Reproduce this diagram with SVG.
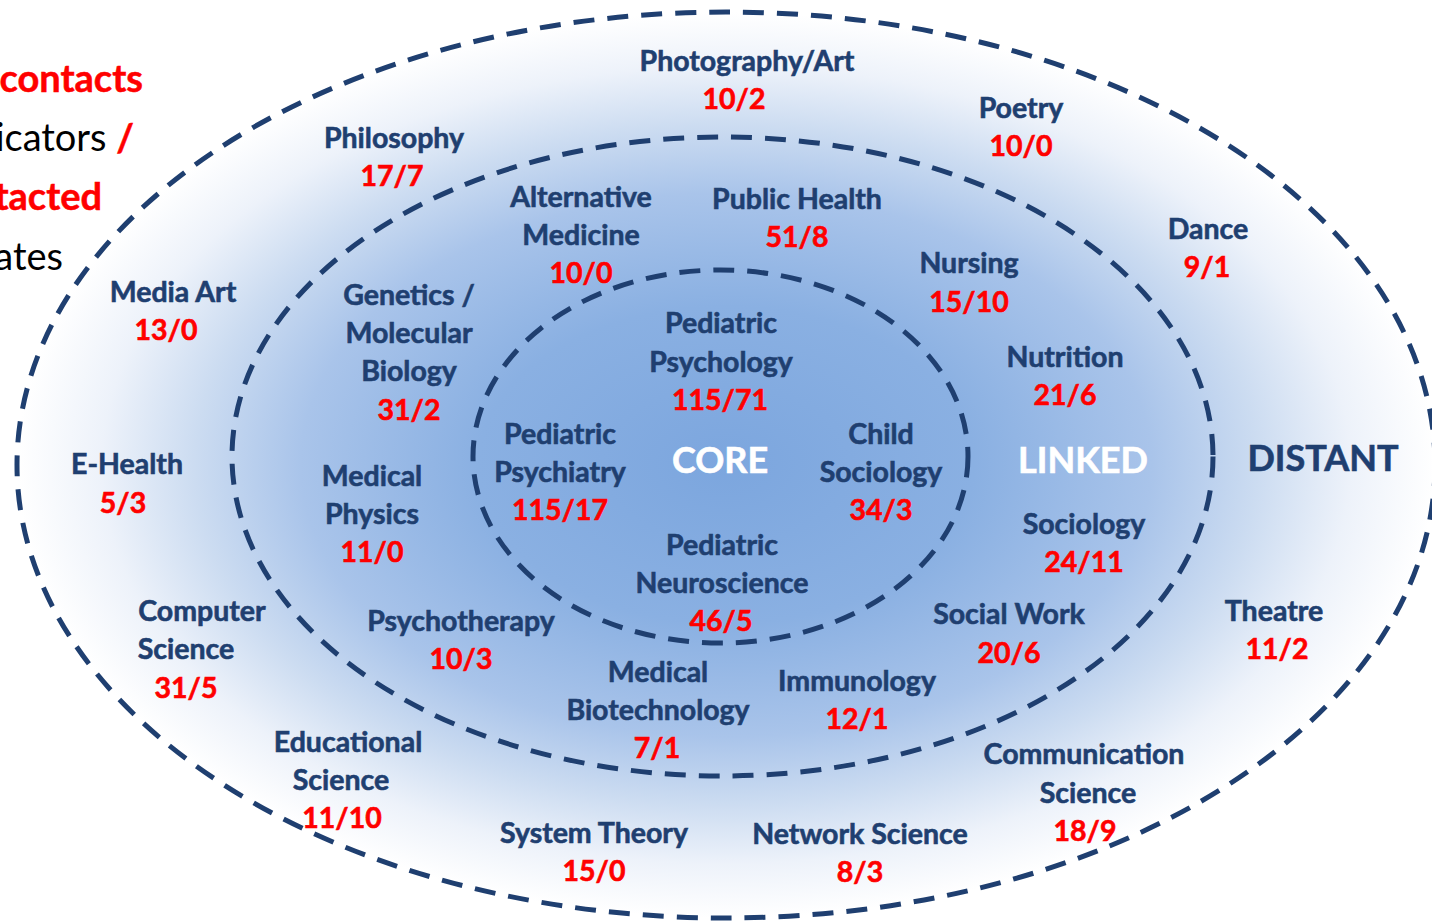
<svg xmlns="http://www.w3.org/2000/svg" width="1432" height="924" viewBox="0 0 1432 924">
<defs>
<radialGradient id="bg" cx="0.5" cy="0.5" r="0.5">
<stop offset="0" stop-color="#7CA6DE"/>
<stop offset="0.35" stop-color="#8AB0E2"/>
<stop offset="0.6" stop-color="#A9C4EA"/>
<stop offset="0.75" stop-color="#CCDCF1"/>
<stop offset="0.88" stop-color="#EDF2FA"/>
<stop offset="1" stop-color="#FFFFFF"/>
</radialGradient>
<style>
.ring{fill:none;stroke:#1F3F70;stroke-width:5;stroke-dasharray:21 13}
text{font-family:Lato,"Liberation Sans",sans-serif;font-weight:700;text-anchor:middle}
.n{fill:#1F3F70;stroke:#1F3F70;stroke-width:0.6;font-size:28.5px}
.v{fill:#FF0000;stroke:#FF0000;stroke-width:0.6;font-size:28.5px}
.big{font-size:36px;stroke-width:0.6}
.w{fill:#FFFFFF;stroke:#FFFFFF}
.d{fill:#1F3F70;stroke:#1F3F70}
.leg{font-size:38px;text-anchor:end}
.red{fill:#FF0000;stroke:#FF0000;stroke-width:0.5}
.blk{fill:#000000;font-weight:400}
</style>
</defs>
<rect width="1432" height="924" fill="#FFFFFF"/>
<g id="rings">
<ellipse cx="726" cy="465" rx="709" ry="453" fill="url(#bg)" stroke="none"/>
<ellipse class="ring" cx="726" cy="465" rx="709" ry="453"/>
<ellipse class="ring" cx="722.5" cy="456.5" rx="490.5" ry="319.5"/>
<ellipse class="ring" cx="720.5" cy="456.5" rx="247.5" ry="186.5"/>
</g>
<g id="legend">
<text class="leg red" x="143" y="92">contacts</text>
<text class="leg blk" x="134" y="151">icators <tspan class="red" style="font-weight:700">/</tspan></text>
<text class="leg red" x="102" y="210">tacted</text>
<text class="leg blk" x="63" y="270">ates</text>
</g>
<g id="zone-labels">
<text class="big w" x="720" y="473">CORE</text>
<text class="big w" x="1083" y="473">LINKED</text>
<text class="big d" x="1323" y="471">DISTANT</text>
</g>
<g id="core">
<g id="pediatric-psychology"><text class="n" x="721" y="333">Pediatric</text><text class="n" x="721" y="372">Psychology</text><text class="v" x="720" y="410">115/71</text></g>
<g id="pediatric-psychiatry"><text class="n" x="560" y="444">Pediatric</text><text class="n" x="560" y="482">Psychiatry</text><text class="v" x="560" y="520">115/17</text></g>
<g id="child-sociology"><text class="n" x="881" y="444">Child</text><text class="n" x="881" y="482">Sociology</text><text class="v" x="881" y="520">34/3</text></g>
<g id="pediatric-neuroscience"><text class="n" x="722" y="555">Pediatric</text><text class="n" x="722" y="593">Neuroscience</text><text class="v" x="721" y="631">46/5</text></g>
</g>
<g id="linked">
<g id="alternative-medicine"><text class="n" x="581" y="207">Alternative</text><text class="n" x="581" y="245">Medicine</text><text class="v" x="581" y="283">10/0</text></g>
<g id="public-health"><text class="n" x="797" y="209">Public Health</text><text class="v" x="797" y="247">51/8</text></g>
<g id="nursing"><text class="n" x="969" y="273">Nursing</text><text class="v" x="969" y="312">15/10</text></g>
<g id="genetics"><text class="n" x="409" y="305">Genetics /</text><text class="n" x="409" y="343">Molecular</text><text class="n" x="409" y="381">Biology</text><text class="v" x="409" y="420">31/2</text></g>
<g id="nutrition"><text class="n" x="1065" y="367">Nutrition</text><text class="v" x="1065" y="405">21/6</text></g>
<g id="medical-physics"><text class="n" x="372" y="486">Medical</text><text class="n" x="372" y="524">Physics</text><text class="v" x="372" y="562">11/0</text></g>
<g id="sociology"><text class="n" x="1084" y="534">Sociology</text><text class="v" x="1084" y="572">24/11</text></g>
<g id="psychotherapy"><text class="n" x="461" y="631">Psychotherapy</text><text class="v" x="461" y="669">10/3</text></g>
<g id="social-work"><text class="n" x="1009" y="624">Social Work</text><text class="v" x="1009" y="663">20/6</text></g>
<g id="medical-biotechnology"><text class="n" x="658" y="682">Medical</text><text class="n" x="658" y="720">Biotechnology</text><text class="v" x="657" y="758">7/1</text></g>
<g id="immunology"><text class="n" x="857" y="691">Immunology</text><text class="v" x="857" y="729">12/1</text></g>
</g>
<g id="distant">
<g id="photography-art"><text class="n" x="747" y="71">Photography/Art</text><text class="v" x="734" y="109">10/2</text></g>
<g id="poetry"><text class="n" x="1021" y="118">Poetry</text><text class="v" x="1021" y="156">10/0</text></g>
<g id="philosophy"><text class="n" x="394" y="148">Philosophy</text><text class="v" x="392" y="186">17/7</text></g>
<g id="dance"><text class="n" x="1208" y="239">Dance</text><text class="v" x="1207" y="277">9/1</text></g>
<g id="media-art"><text class="n" x="173" y="302">Media Art</text><text class="v" x="166" y="340">13/0</text></g>
<g id="e-health"><text class="n" x="127" y="474">E-Health</text><text class="v" x="123" y="513">5/3</text></g>
<g id="computer-science"><text class="n" x="202" y="621">Computer</text><text class="n" x="186" y="659">Science</text><text class="v" x="186" y="698">31/5</text></g>
<g id="theatre"><text class="n" x="1274" y="621">Theatre</text><text class="v" x="1277" y="659">11/2</text></g>
<g id="educational-science"><text class="n" x="348" y="752">Educational</text><text class="n" x="341" y="790">Science</text><text class="v" x="342" y="828">11/10</text></g>
<g id="communication-science"><text class="n" x="1084" y="764">Communication</text><text class="n" x="1088" y="803">Science</text><text class="v" x="1085" y="841">18/9</text></g>
<g id="system-theory"><text class="n" x="594" y="843">System Theory</text><text class="v" x="594" y="881">15/0</text></g>
<g id="network-science"><text class="n" x="860" y="844">Network Science</text><text class="v" x="860" y="882">8/3</text></g>
</g>
</svg>
